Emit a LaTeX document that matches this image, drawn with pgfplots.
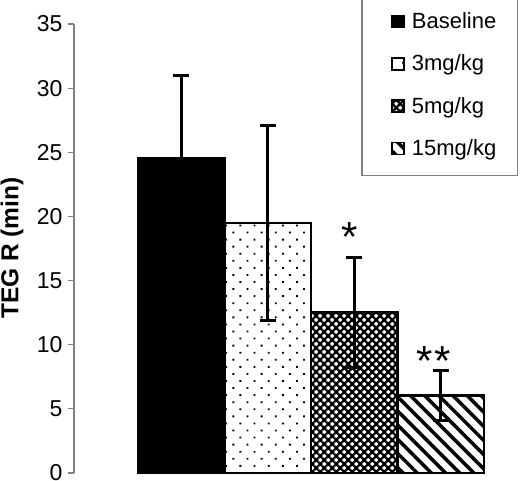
\documentclass[border=0pt]{standalone}
\usepackage{pgfplots}
\pgfplotsset{compat=1.18}
\usetikzlibrary{patterns.meta}
\usepackage{fontspec}
\setmainfont{Liberation Sans}
\begin{document}
\begin{tikzpicture}[x=1pt,y=1pt]
\useasboundingbox (0,0) rectangle (520,480);
\pgfplotsset{
  mylegend/.style={legend image code/.code={%
    \pgfpathmoveto{\pgfpoint{-11pt}{0pt}}\pgfpathlineto{\pgfpoint{18pt}{0pt}}\pgfusepath{discard}%
    \draw[##1,line width=1.5pt] (0pt,-6pt) rectangle (12pt,6pt);}},
  myerr/.style={error bars/.cd, y dir=both, y explicit,
     error bar style={line width=3pt, black},
     error mark options={rotate=90, line width=3pt, mark size=8pt, black}},
}
\begin{axis}[
  at={(74pt,7pt)}, anchor=south west,
  scale only axis, width=426pt, height=449pt,
  xmin=-1.24, xmax=3.685, ymin=0, ymax=35,
  axis x line=none, axis y line=left,
  y axis line style={-, draw=gray, line width=1.2pt},
  ytick={0,5,...,35}, xtick=\empty,
  tick align=outside, major tick length=6pt,
  ytick style={draw=gray, line width=1.2pt},
  /pgf/number format/assume math mode=true,
  yticklabel style={font=\fontsize{23}{27}\selectfont, xshift=-2pt},
  ylabel={\bfseries TEG R (min)},
  ylabel style={font=\fontsize{24.5}{28}\selectfont, at={(axis description cs:-0.1455,0.501)}, anchor=center},
  legend style={at={(1.042,1.0668)}, anchor=north east, draw=gray, line width=1.2pt,
     font=\fontsize{22}{26}\selectfont, row sep=21pt, inner xsep=19pt, inner ysep=16pt},
  legend cell align=left,
]
\addplot[ybar, bar width=1, bar shift=0pt, fill=black, draw=black, line width=2.5pt, mylegend, myerr]
  coordinates {(0,24.5) +- (0,6.5)};
\addlegendentry{Baseline}
\addplot[ybar, bar width=1, bar shift=0pt, draw=black, line width=2.5pt,
  pattern={Dots[distance=10pt, radius=1.3pt, angle=45]}, mylegend, myerr]
  coordinates {(1,19.5) +- (0,7.6)};
\addlegendentry{3mg/kg}
\addplot[ybar, bar width=1, bar shift=0pt, draw=black, line width=2.5pt,
  pattern={Hatch[distance=5.66pt, angle=45, line width=2.3pt]}, mylegend, myerr]
  coordinates {(2,12.5) +- (0,4.3)};
\addlegendentry{5mg/kg}
\addplot[ybar, bar width=1, bar shift=0pt, draw=black, line width=2.5pt,
  pattern={Lines[distance=10pt, angle=-45, line width=3.5pt]}, mylegend, myerr]
  coordinates {(3,6.05) +- (0,1.95)};
\addlegendentry{15mg/kg}
\node[font=\fontsize{42}{42}\selectfont, anchor=base] at (axis cs:1.95,17.3) {*};
\node[font=\fontsize{42}{42}\selectfont, anchor=base] at (axis cs:2.92,7.6) {*\hspace{2pt}*};
\end{axis}
\end{tikzpicture}
\end{document}
